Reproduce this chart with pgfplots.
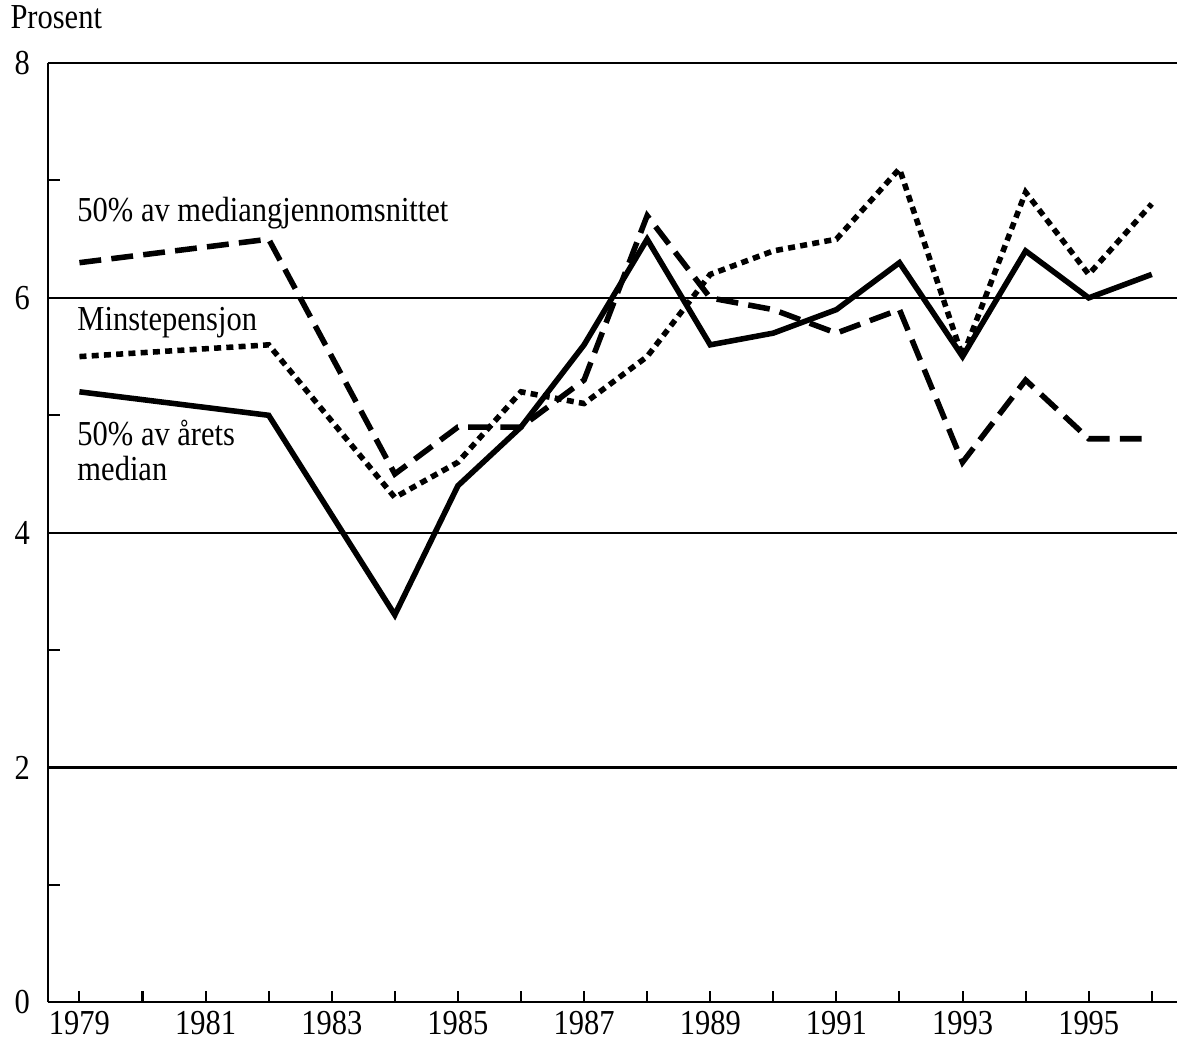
\documentclass[border=0pt]{standalone}
\usepackage{fontspec}
\setmainfont{Liberation Serif}[FakeStretch=0.87]
\usepackage{pgfplots}
\pgfplotsset{compat=1.18}
\begin{document}
\fontsize{12}{14}\selectfont
\begin{tikzpicture}
\begin{axis}[
  name=ax,
  scale only axis,
  width=386.6pt, height=321.6pt,
  xmin=1978.5, xmax=1996.4,
  ymin=0, ymax=8,
  axis x line=bottom, axis y line=left,
  axis line style={line width=0.7pt, -},
  xtick={1979,1981,...,1995},
  minor xtick={1980,1982,...,1996},
  ytick={0,2,4,6,8},
  minor ytick={1,3,5,7},
  ymajorgrids, grid style={black, line width=0.7pt},
  tick style={black, line width=0.7pt},
  major tick length=4pt, minor tick length=4pt,
  tick align=inside,
  x tick label style={/pgf/number format/1000 sep={}},
  xticklabel style={font=\fontsize{12}{14}\selectfont, yshift=1pt},
  yticklabel style={font=\fontsize{12}{14}\selectfont, xshift=-2pt},
  /pgf/number format/assume math mode=true,
  clip=false,
]
\addplot[black, line width=1.9pt] coordinates {
(1979,5.2) (1982,5.0) (1984,3.3) (1985,4.4) (1986,4.9) (1987,5.6) (1988,6.5) (1989,5.6) (1990,5.7) (1991,5.9) (1992,6.3) (1993,5.5) (1994,6.4) (1995,6.0) (1996,6.2)};
\addplot[black, line width=1.9pt, dash pattern=on 7.5pt off 3.5pt] coordinates {
(1979,6.3) (1982,6.5) (1984,4.5) (1985,4.9) (1986,4.9) (1987,5.3) (1988,6.7) (1989,6.0) (1990,5.9) (1991,5.7) (1992,5.9) (1993,4.6) (1994,5.3) (1995,4.8) (1996,4.8)};
\addplot[black, line width=1.9pt, dash pattern=on 2.4pt off 1.8pt] coordinates {
(1979,5.5) (1982,5.6) (1984,4.3) (1985,4.6) (1986,5.2) (1987,5.1) (1988,5.5) (1989,6.2) (1990,6.4) (1991,6.5) (1992,7.1) (1993,5.5) (1994,6.9) (1995,6.2) (1996,6.8)};
\node[anchor=west, inner sep=0pt] at (axis cs:1978.96,6.72) {50\% av mediangjennomsnittet};
\node[anchor=west, inner sep=0pt] at (axis cs:1978.96,5.79) {Minstepensjon};
\node[anchor=west, inner sep=0pt, align=left] at (axis cs:1978.96,4.70) {50\% av årets\\[-2pt]median};
\node[anchor=base west, inner sep=0pt] at ([xshift=-13pt,yshift=12pt]rel axis cs:0,1) {Prosent};
\end{axis}
\pgfresetboundingbox
\path ([xshift=-16.4pt, yshift=-13.0pt]ax.south west) rectangle ([yshift=21.6pt]ax.north east);
\end{tikzpicture}
\end{document}
